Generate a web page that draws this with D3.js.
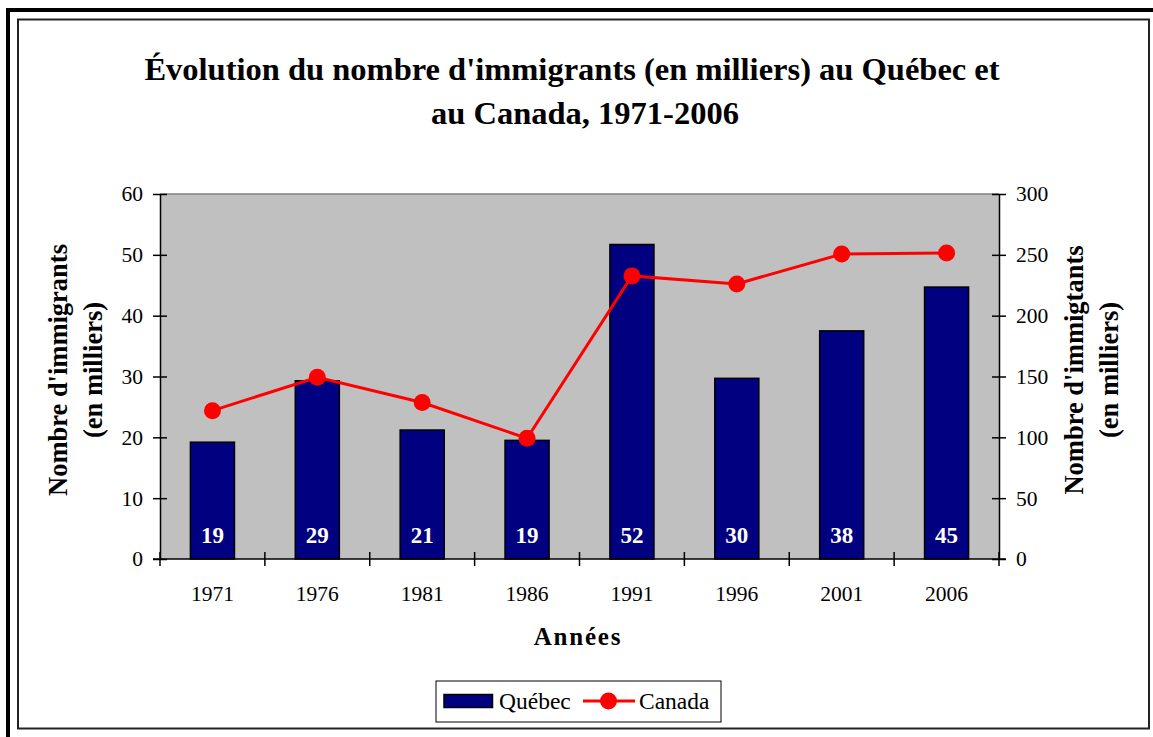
<!DOCTYPE html>
<html>
<head>
<meta charset="utf-8">
<script src="https://cdn.jsdelivr.net/npm/d3@7"></script>
<style>
  body { margin: 0; background: #fff; }
  svg { display: block; font-family: "Liberation Serif", "Times New Roman", serif; }
</style>
</head>
<body>
<svg width="1153" height="737"></svg>
<script>
// data (thousands)
const years = ["1971", "1976", "1981", "1986", "1991", "1996", "2001", "2006"];
const quebec = [19.2, 29.3, 21.2, 19.5, 51.7, 29.7, 37.5, 44.7];
const canada = [121.9, 149.4, 128.6, 99.2, 232.7, 226.1, 250.6, 251.6];
const quebecLabels = ["19", "29", "21", "19", "52", "30", "38", "45"];
const leftTicks = [0, 10, 20, 30, 40, 50, 60];
const rightTicks = [0, 50, 100, 150, 200, 250, 300];

const svg = d3.select("svg");

// frame
svg.append("rect")
  .attr("x", 8).attr("y", 10).attr("width", 1200).attr("height", 800)
  .attr("fill", "none").attr("stroke", "#000").attr("stroke-width", 4);
svg.append("rect")
  .attr("x", 18).attr("y", 19.5).attr("width", 1131).attr("height", 709)
  .attr("fill", "#fff").attr("stroke", "#222").attr("stroke-width", 2);

const pLeft = 160, pRight = 999, pTop = 194, pBottom = 559;

const x = d3.scaleBand().domain(years).range([pLeft, pRight])
  .paddingInner(0.58).paddingOuter(0.29);
const yL = d3.scaleLinear().domain([0, 60]).range([pBottom, pTop]);
const yR = d3.scaleLinear().domain([0, 300]).range([pBottom, pTop]);

// plot area
svg.append("rect")
  .attr("x", pLeft).attr("y", pTop).attr("width", pRight - pLeft).attr("height", pBottom - pTop)
  .attr("fill", "#c0c0c0");
svg.append("line")
  .attr("x1", pLeft).attr("x2", pRight).attr("y1", pTop).attr("y2", pTop)
  .attr("stroke", "#808080").attr("stroke-width", 1.5);

// bars
svg.selectAll(".bar")
  .data(years)
  .join("rect")
  .attr("class", "bar")
  .attr("x", d => x(d))
  .attr("y", (d, i) => yL(quebec[i]))
  .attr("width", x.bandwidth())
  .attr("height", (d, i) => yL(0) - yL(quebec[i]))
  .attr("fill", "#000080")
  .attr("stroke", "#000")
  .attr("stroke-width", 1.5);

svg.selectAll(".barlabel")
  .data(years)
  .join("text")
  .attr("class", "barlabel")
  .attr("x", d => x(d) + x.bandwidth() / 2)
  .attr("y", 543)
  .attr("text-anchor", "middle")
  .attr("fill", "#fff")
  .attr("font-weight", "bold")
  .attr("font-size", 23)
  .text((d, i) => quebecLabels[i]);

// canada line
const line = d3.line()
  .x((d, i) => x(years[i]) + x.bandwidth() / 2)
  .y(d => yR(d));
svg.append("path")
  .datum(canada)
  .attr("d", line)
  .attr("fill", "none")
  .attr("stroke", "#ff0000")
  .attr("stroke-width", 3);
svg.selectAll(".dot")
  .data(canada)
  .join("circle")
  .attr("class", "dot")
  .attr("cx", (d, i) => x(years[i]) + x.bandwidth() / 2)
  .attr("cy", d => yR(d))
  .attr("r", 8.5)
  .attr("fill", "#ff0000");

// axes
const axL = svg.append("g")
  .attr("transform", `translate(${pLeft},0)`)
  .call(d3.axisLeft(yL).tickValues(leftTicks).tickSize(7).tickPadding(10).tickSizeOuter(0));
axL.selectAll(".tick line").attr("x1", 7);
const axR = svg.append("g")
  .attr("transform", `translate(${pRight},0)`)
  .call(d3.axisRight(yR).tickValues(rightTicks).tickSize(7).tickPadding(10).tickSizeOuter(0));
axR.selectAll(".tick line").attr("x1", -7);

const axB = svg.append("g")
  .attr("transform", `translate(0,${pBottom})`)
  .call(d3.axisBottom(x).tickSize(0).tickPadding(27).tickSizeOuter(0));
axB.select(".domain").remove();

svg.selectAll(".sep")
  .data(d3.range(years.length + 1))
  .join("line")
  .attr("class", "sep")
  .attr("x1", i => pLeft + i * x.step())
  .attr("x2", i => pLeft + i * x.step())
  .attr("y1", pBottom - 7)
  .attr("y2", pBottom + 7)
  .attr("stroke", "#000")
  .attr("stroke-width", 1.5);
svg.append("line")
  .attr("x1", pLeft - 7).attr("x2", pRight + 7).attr("y1", pBottom).attr("y2", pBottom)
  .attr("stroke", "#000").attr("stroke-width", 1.5);

[axL, axR, axB].forEach(a => {
  a.selectAll("text").attr("font-size", 21.5).attr("fill", "#000")
    .attr("font-family", "Liberation Serif");
  a.selectAll("line, path").attr("stroke", "#000").attr("stroke-width", 1.5);
});

// titles
const title = svg.append("text")
  .attr("text-anchor", "middle")
  .attr("font-weight", "bold")
  .attr("font-size", 32.5);
title.append("tspan").attr("x", 572).attr("y", 80)
  .text("Évolution du nombre d'immigrants (en milliers) au Québec et");
title.append("tspan").attr("x", 585).attr("y", 124)
  .text("au Canada, 1971-2006");

svg.append("text")
  .attr("x", 578).attr("y", 645)
  .attr("text-anchor", "middle")
  .attr("font-weight", "bold")
  .attr("font-size", 25)
  .attr("letter-spacing", 1.8)
  .text("Années");

function axisTitle(cy, lines, baseX) {
  const t = svg.append("text")
    .attr("text-anchor", "middle")
    .attr("font-weight", "bold")
    .attr("font-size", 26.5)
    .attr("transform", `rotate(-90)`);
  lines.forEach((l, i) => {
    t.append("tspan").attr("x", -cy).attr("y", baseX[i]).text(l);
  });
}
axisTitle(370, ["Nombre d'immigrants", "(en milliers)"], [67, 102]);
axisTitle(370, ["Nombre d'immigtants", "(en milliers)"], [1083, 1118]);

// legend
const lg = svg.append("g");
lg.append("rect")
  .attr("x", 436).attr("y", 681).attr("width", 285).attr("height", 41)
  .attr("fill", "#fff").attr("stroke", "#000").attr("stroke-width", 1);
lg.append("rect")
  .attr("x", 444).attr("y", 694.5).attr("width", 48.5).attr("height", 13)
  .attr("fill", "#000080").attr("stroke", "#000").attr("stroke-width", 1.5);
lg.append("text").attr("x", 499).attr("y", 709).attr("font-size", 23.5).text("Québec");
lg.append("line")
  .attr("x1", 583).attr("x2", 635).attr("y1", 701).attr("y2", 701)
  .attr("stroke", "#ff0000").attr("stroke-width", 3);
lg.append("circle").attr("cx", 608.5).attr("cy", 701).attr("r", 8.5).attr("fill", "#ff0000");
lg.append("text").attr("x", 639).attr("y", 709).attr("font-size", 23.5).text("Canada");
</script>
</body>
</html>
